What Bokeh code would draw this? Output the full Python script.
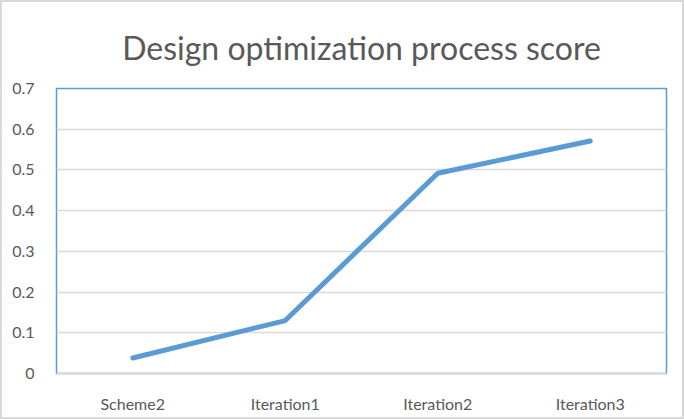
from bokeh.plotting import figure
from bokeh.models import FixedTicker, Range1d, FactorRange
from bokeh.embed import file_html
from bokeh.resources import INLINE

categories = ["Scheme2", "Iteration1", "Iteration2", "Iteration3"]
scores = [0.038, 0.13, 0.492, 0.571]
y_ticks = [0, 0.1, 0.2, 0.3, 0.4, 0.5, 0.6, 0.7]
y_tick_labels = ["0", "0.1", "0.2", "0.3", "0.4", "0.5", "0.6", "0.7"]
title_text = "Design optimization process score"

FONT = "Lato"
GRAY = "#595959"
BLUE = "#5B9BD5"

p = figure(width=684, height=419, x_range=FactorRange(*categories, range_padding=0),
           y_range=Range1d(0, 0.7), output_backend="svg", toolbar_location=None,
           min_border_left=54, min_border_right=20, min_border_top=86, min_border_bottom=48,
           title=title_text)
p.styles = {"border": "2px solid #D9D9D9", "box-sizing": "border-box"}

p.title.text_font = FONT
p.title.text_font_size = "32px"
p.title.text_font_style = "normal"
p.title.text_color = GRAY
p.title.align = "center"
p.title.vertical_align = "bottom"
p.title.standoff = 44

p.outline_line_color = BLUE
p.outline_line_width = 1.5
p.background_fill_color = "white"
p.border_fill_color = "white"

p.line(x=categories, y=scores, line_color=BLUE, line_width=5, line_cap="round", line_join="round")

p.xgrid.grid_line_color = None
p.ygrid.grid_line_color = "#D9D9D9"
p.ygrid.grid_line_width = 1.5
p.yaxis.ticker = FixedTicker(ticks=y_ticks)
p.yaxis.major_label_overrides = {t: l for t, l in zip(y_ticks, y_tick_labels)}

for ax in (p.xaxis, p.yaxis):
    ax.major_tick_line_color = None
    ax.minor_tick_line_color = None
    ax.major_label_text_font = FONT
    ax.major_label_text_font_size = "16px"
    ax.major_label_text_color = GRAY
p.yaxis.axis_line_color = None
p.yaxis.major_label_standoff = 16
p.xaxis.axis_line_color = "#D9D9D9"
p.xaxis.axis_line_width = 1.5
p.xaxis.major_label_standoff = 14

open("out.html", "w").write(file_html(p, INLINE))
